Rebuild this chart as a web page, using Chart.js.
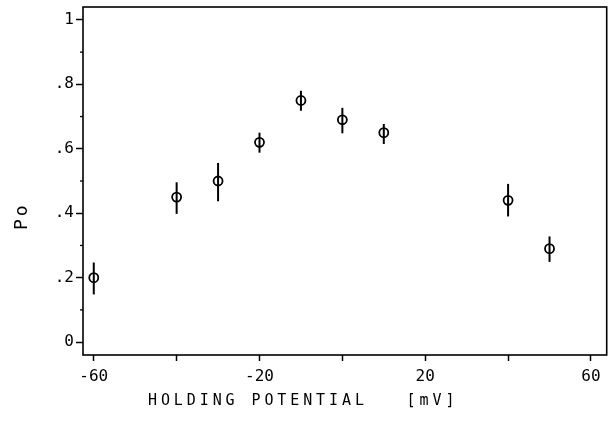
<!DOCTYPE html>
<html>
<head>
<meta charset="utf-8">
<script src="https://cdn.jsdelivr.net/npm/chart.js@4/dist/chart.umd.min.js"></script>
<style>
  html, body { margin: 0; padding: 0; background: #fff; }
  #wrap { width: 613px; height: 423px; }
</style>
</head>
<body>
<div id="wrap"><canvas id="poChart" width="613" height="423"></canvas></div>
<script>
// holding potential (mV) and open probability
const voltage = [-60, -40, -30, -20, -10, 0, 10, 40, 50];
const po      = [0.20, 0.45, 0.50, 0.62, 0.75, 0.69, 0.65, 0.44, 0.29];
const poLow   = [0.148, 0.398, 0.437, 0.588, 0.718, 0.648, 0.615, 0.39, 0.249];
const poHigh  = [0.247, 0.496, 0.556, 0.65, 0.78, 0.727, 0.677, 0.491, 0.328];

const xTicks = [-60, -40, -20, 0, 20, 40, 60];
const xLabels = { "-60": "-60", "-20": "-20", "20": "20", "60": "60" };
const yTicks = [0, 0.2, 0.4, 0.6, 0.8, 1];
const yLabels = ["0", ".2", ".4", ".6", ".8", "1"];
const yMinor = [0.1, 0.3, 0.5, 0.7, 0.9];

const xTitle = "HOLDING POTENTIAL   [mV]";
const yTitle = "Po";

const tickFont = { family: "'DejaVu Sans Mono', monospace", size: 16 };

// frame, minor ticks, error bars and the spaced-out axis titles
const extras = {
    id: "extras",
    beforeDatasetsDraw(chart) {
        const ctx = chart.ctx;
        const x = chart.scales.x, y = chart.scales.y;
        ctx.save();
        ctx.strokeStyle = "#000";
        ctx.lineWidth = 2;
        voltage.forEach((v, i) => {
            const px = x.getPixelForValue(v);
            ctx.beginPath();
            ctx.moveTo(px, y.getPixelForValue(poLow[i]));
            ctx.lineTo(px, y.getPixelForValue(poHigh[i]));
            ctx.stroke();
        });
        ctx.restore();
    },
    afterDraw(chart) {
        const ctx = chart.ctx;
        const a = chart.chartArea;
        const y = chart.scales.y;
        ctx.save();
        ctx.strokeStyle = "#000";
        ctx.lineWidth = 1.6;
        ctx.strokeRect(a.left, a.top, a.right - a.left, a.bottom - a.top);
        ctx.lineWidth = 1.3;
        yMinor.forEach(v => {
            const py = y.getPixelForValue(v);
            ctx.beginPath();
            ctx.moveTo(a.left - 3, py);
            ctx.lineTo(a.left, py);
            ctx.stroke();
        });

        ctx.fillStyle = "#000";
        ctx.font = "15px 'DejaVu Sans Mono', monospace";
        ctx.letterSpacing = "3.9px";
        ctx.textAlign = "left";
        ctx.textBaseline = "middle";
        ctx.fillText(xTitle, 148, 401);

        ctx.font = "18px 'DejaVu Sans Mono', monospace";
        ctx.letterSpacing = "3px";
        ctx.translate(22, 230);
        ctx.rotate(-Math.PI / 2);
        ctx.fillText(yTitle, 0, 0);
        ctx.restore();
    }
};

new Chart(document.getElementById("poChart"), {
    type: "scatter",
    data: {
        datasets: [{
            data: voltage.map((v, i) => ({ x: v, y: po[i] })),
            pointStyle: "circle",
            pointRadius: 4.5,
            pointBorderWidth: 1.8,
            pointBorderColor: "#000",
            pointBackgroundColor: "rgba(0,0,0,0)",
            showLine: false
        }]
    },
    options: {
        responsive: false,
        animation: false,
        layout: { padding: { top: 7, right: 5, left: 0, bottom: 0 } },
        plugins: { legend: { display: false }, tooltip: { enabled: false } },
        scales: {
            x: {
                type: "linear",
                min: -62.6,
                max: 63.8,
                afterBuildTicks: s => { s.ticks = xTicks.map(v => ({ value: v })); },
                afterFit: s => { s.height = 68; s.paddingLeft = 0; s.paddingRight = 0; },
                border: { display: false },
                grid: {
                    drawOnChartArea: false,
                    drawTicks: true,
                    tickLength: 6,
                    tickWidth: 1.5,
                    tickColor: "#000"
                },
                ticks: {
                    autoSkip: false,
                    maxRotation: 0,
                    padding: 6,
                    color: "#000",
                    font: tickFont,
                    callback: v => xLabels[String(v)] || ""
                }
            },
            y: {
                type: "linear",
                min: -0.04,
                max: 1.04,
                afterBuildTicks: s => { s.ticks = yTicks.map(v => ({ value: v })); },
                afterFit: s => { s.width = 83; s.paddingTop = 0; s.paddingBottom = 0; },
                border: { display: false },
                grid: {
                    drawOnChartArea: false,
                    drawTicks: true,
                    tickLength: 7,
                    tickWidth: 1.5,
                    tickColor: "#000"
                },
                ticks: {
                    autoSkip: false,
                    padding: 2,
                    color: "#000",
                    font: tickFont,
                    callback: (v, i) => yLabels[i]
                }
            }
        }
    },
    plugins: [extras]
});
</script>
</body>
</html>
